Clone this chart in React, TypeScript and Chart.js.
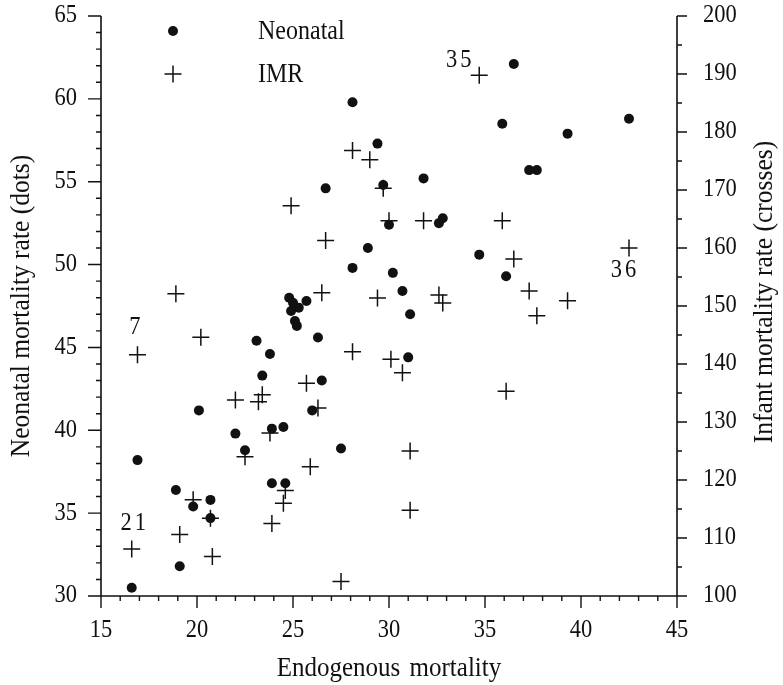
import React, { useEffect, useRef } from "react";
import { Chart, registerables } from "chart.js";

Chart.register(...registerables);

// Neonatal mortality (dots): x = endogenous mortality, y = neonatal rate
const neonatalX = [
  36.5, 28.1, 29.4, 29.7, 26.7, 30.0, 35.9, 42.5, 39.3, 37.3,
  37.7, 31.8, 32.6, 32.8, 28.9, 28.1, 30.2, 30.7, 31.1, 31.0,
  34.7, 36.1, 26.3, 23.1, 23.8, 23.4, 26.5, 20.1, 26.0, 22.0,
  23.9, 24.5, 22.5, 16.9, 27.5, 18.9, 23.9, 24.6, 19.8, 20.7,
  20.7, 19.1, 16.6, 24.8, 25.0, 25.3, 25.7, 24.9, 25.1, 25.2,
];
const neonatalY = [
  62.1, 59.8, 57.3, 54.8, 54.6, 52.4, 58.5, 58.8, 57.9, 55.7,
  55.7, 55.2, 52.5, 52.8, 51.0, 49.8, 49.5, 48.4, 47.0, 44.4,
  50.6, 49.3, 45.6, 45.4, 44.6, 43.3, 43.0, 41.2, 41.2, 39.8,
  40.1, 40.2, 38.8, 38.2, 38.9, 36.4, 36.8, 36.8, 35.4, 35.8,
  34.7, 31.8, 30.5, 48.0, 47.7, 47.4, 47.8, 47.2, 46.6, 46.3,
];

// Infant mortality rate (crosses)
const imrX = [
  34.7, 28.1, 29.0, 29.7, 24.9, 30.0, 31.8, 35.9, 26.7, 42.5,
  36.5, 37.3, 39.3, 37.7, 32.6, 32.8, 18.9, 26.5, 29.4, 20.2,
  16.9, 28.1, 30.1, 30.7, 36.1, 25.7, 22.0, 23.2, 23.4, 26.3,
  23.8, 22.5, 25.9, 31.1, 31.1, 24.6, 24.5, 19.8, 20.7, 23.9,
  16.6, 19.1, 20.8, 27.5,
];
const imrY = [
  189.8, 176.8, 175.2, 170.3, 167.3, 164.7, 164.7, 164.7, 161.3, 160.0,
  158.1, 152.6, 150.9, 148.3, 151.9, 150.5, 152.1, 152.3, 151.4, 144.6,
  141.6, 142.1, 140.8, 138.5, 135.3, 136.7, 133.8, 133.5, 134.7, 132.4,
  128.1, 124.0, 122.3, 125.0, 114.8, 118.2, 116.0, 116.6, 113.4, 112.5,
  108.1, 110.6, 106.8, 102.5,
];

// Numbered crosses
const labelText = ["35", "36", "7", "21"];
const labelIndex = [0, 9, 20, 40];
const labelOffset = [
  [-19, -15],
  [-4, 23],
  [-1, -27],
  [3, -26],
];

const xTickLabels = [15, 20, 25, 30, 35, 40, 45];
const leftTickLabels = [30, 35, 40, 45, 50, 55, 60, 65];
const rightTickLabels = [100, 110, 120, 130, 140, 150, 160, 170, 180, 190, 200];

const xTitle = "Endogenous mortality";
const leftTitle = "Neonatal mortality rate (dots)";
const rightTitle = "Infant mortality rate (crosses)";
const legendNames = ["Neonatal", "IMR"];

const INK = "#111111";
const FONT = '"Liberation Serif", "Times New Roman", serif';
const STRETCH = 1.1;

function drawText(
  ctx: CanvasRenderingContext2D,
  s: string,
  x: number,
  y: number,
  align: CanvasTextAlign,
  size: number,
  rot = 0,
  spacing = 0
) {
  ctx.save();
  ctx.translate(x, y);
  if (rot) ctx.rotate(rot);
  ctx.scale(1, STRETCH);
  ctx.font = `${size}px ${FONT}`;
  ctx.fillStyle = INK;
  ctx.textAlign = align;
  ctx.textBaseline = "middle";
  (ctx as any).letterSpacing = `${spacing}px`;
  (ctx as any).wordSpacing = rot ? "0px" : "3px";
  ctx.fillText(s, 0, 0);
  ctx.restore();
}

const axesPlugin = {
  id: "paperAxes",
  afterDraw(chart: any) {
    const ctx: CanvasRenderingContext2D = chart.ctx;
    const { left, right, top, bottom } = chart.chartArea;
    const xs = chart.scales.x;
    const ys = chart.scales.y;
    const y2 = chart.scales.y2;
    ctx.save();
    ctx.strokeStyle = INK;
    ctx.lineWidth = 1.6;
    ctx.beginPath();
    ctx.moveTo(left, top);
    ctx.lineTo(left, bottom);
    ctx.lineTo(right, bottom);
    ctx.lineTo(right, top);
    ctx.stroke();

    ctx.lineWidth = 1.4;
    ctx.beginPath();
    for (let v = xs.min; v <= xs.max; v += 1) {
      const px = xs.getPixelForValue(v);
      const len = v % 5 === 0 ? 12 : 5;
      ctx.moveTo(px, bottom);
      ctx.lineTo(px, bottom + len);
    }
    for (let v = ys.min; v <= ys.max; v += 1) {
      const py = ys.getPixelForValue(v);
      const len = v % 5 === 0 ? 13 : 5;
      ctx.moveTo(left, py);
      ctx.lineTo(left - len, py);
    }
    for (let v = y2.min; v <= y2.max; v += 5) {
      const py = y2.getPixelForValue(v);
      const len = v % 10 === 0 ? 10 : 5;
      ctx.moveTo(right, py);
      ctx.lineTo(right + len, py);
    }
    ctx.stroke();

    xTickLabels.forEach((v) => drawText(ctx, String(v), xs.getPixelForValue(v), bottom + 35, "center", 22.5));
    leftTickLabels.forEach((v) => drawText(ctx, String(v), left - 24, ys.getPixelForValue(v), "right", 22.5));
    rightTickLabels.forEach((v) => drawText(ctx, String(v), right + 26, y2.getPixelForValue(v), "left", 22.5));

    drawText(ctx, xTitle, (left + right) / 2, bottom + 73, "center", 25);
    drawText(ctx, leftTitle, 22, (top + bottom) / 2, "center", 25.5, -Math.PI / 2);
    drawText(ctx, rightTitle, 765, (top + bottom) / 2 - 14, "center", 25.5, -Math.PI / 2);

    // legend
    const lx = left + 72;
    const ly1 = top + 15;
    const ly2 = top + 58;
    ctx.fillStyle = INK;
    ctx.beginPath();
    ctx.arc(lx, ly1, 5, 0, Math.PI * 2);
    ctx.fill();
    ctx.lineWidth = 1.5;
    ctx.beginPath();
    ctx.moveTo(lx - 8.5, ly2);
    ctx.lineTo(lx + 8.5, ly2);
    ctx.moveTo(lx, ly2 - 8.5);
    ctx.lineTo(lx, ly2 + 8.5);
    ctx.stroke();
    drawText(ctx, legendNames[0], left + 157, ly1 + 1, "left", 24);
    drawText(ctx, legendNames[1], left + 157, ly2 + 1, "left", 24);

    // numbered crosses
    const meta = chart.getDatasetMeta(1);
    labelIndex.forEach((idx, i) => {
      const el = meta.data[idx];
      drawText(ctx, labelText[i], el.x + labelOffset[i][0], el.y + labelOffset[i][1], "center", 22.5, 0, 3);
    });
    ctx.restore();
  },
};

export default function App() {
  const ref = useRef<HTMLCanvasElement | null>(null);
  useEffect(() => {
    document.body.style.margin = "0";
    const canvas = ref.current!;
    const chart = new Chart(canvas, {
      type: "scatter",
      data: {
        datasets: [
          {
            label: legendNames[0],
            data: neonatalX.map((x, i) => ({ x, y: neonatalY[i] })),
            yAxisID: "y",
            pointStyle: "circle",
            pointRadius: 5,
            backgroundColor: INK,
            borderColor: INK,
            borderWidth: 0,
          },
          {
            label: legendNames[1],
            data: imrX.map((x, i) => ({ x, y: imrY[i] })),
            yAxisID: "y2",
            pointStyle: "cross",
            pointRadius: 8.5,
            backgroundColor: INK,
            borderColor: INK,
            borderWidth: 1.5,
          },
        ],
      },
      options: {
        animation: false,
        responsive: false,
        layout: { padding: { left: 101, right: 106, top: 16, bottom: 89 } },
        plugins: { legend: { display: false }, tooltip: { enabled: false } },
        scales: {
          x: {
            type: "linear",
            min: 15,
            max: 45,
            ticks: { display: false },
            grid: { display: false, drawTicks: false },
            border: { display: false },
            afterFit: (s: any) => { s.height = 0; },
          },
          y: {
            type: "linear",
            position: "left",
            min: 30,
            max: 65,
            ticks: { display: false },
            grid: { display: false, drawTicks: false },
            border: { display: false },
            afterFit: (s: any) => { s.width = 0; },
          },
          y2: {
            type: "linear",
            position: "right",
            min: 100,
            max: 200,
            ticks: { display: false },
            grid: { display: false, drawTicks: false },
            border: { display: false },
            afterFit: (s: any) => { s.width = 0; },
          },
        },
      },
      plugins: [axesPlugin],
    });
    return () => chart.destroy();
  }, []);
  return <canvas ref={ref} width={783} height={685} style={{ display: "block" }} />;
}
